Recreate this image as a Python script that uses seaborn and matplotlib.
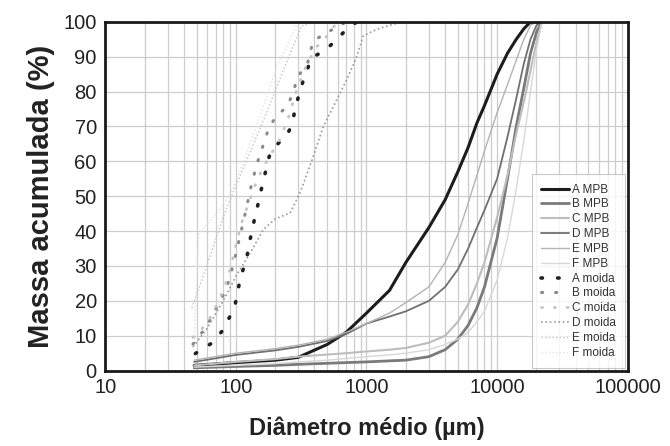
import matplotlib
matplotlib.use("Agg")
import matplotlib.pyplot as plt
import seaborn as sns
import numpy as np
import pandas as pd

# Particle size (µm) for the MPB curves
xMPB = [48, 100, 200, 300, 500, 700, 1000, 1500, 2000, 3000, 4000, 5000,
        6000, 7000, 8000, 10000, 12000, 14000, 16000, 18000, 20000, 22000]

aMPB = [1.5, 2.3, 3.0, 3.8, 7.5, 11, 16.5, 23, 31, 41, 49, 57,
        64, 71, 76, 85, 91, 95, 98, 100, 100, 100]
bMPB = [0.8, 1.2, 1.5, 1.8, 2.1, 2.3, 2.5, 2.8, 3.0, 4.0, 6.0, 9.0,
        13, 18, 24, 38, 55, 70, 81, 91, 97, 100]
cMPB = [1.5, 2.5, 3.3, 4.0, 4.6, 5.0, 5.5, 6.0, 6.5, 8.0, 10, 14,
        19, 25, 31, 44, 56, 68, 77, 86, 94, 100]
dMPB = [2.5, 4.5, 5.8, 6.8, 8.5, 10.5, 13.5, 15.5, 17, 20, 24, 29,
        35, 41, 46, 55, 67, 78, 88, 95, 99, 100]
eMPB = [3.0, 5.0, 6.3, 7.3, 9.0, 11, 13.5, 16.5, 19.5, 24, 31, 39,
        48, 56, 63, 74, 82, 89, 95, 99, 100, 100]
fMPB = [1.0, 1.5, 2.0, 2.5, 3.0, 3.5, 4.0, 4.5, 5.0, 6.0, 7.5, 9.0,
        11, 14, 17, 26, 38, 52, 66, 80, 92, 100]

# Ground ("moída") curves
xAMoida = [49, 65, 78, 90, 99, 104, 110, 121, 126, 132, 140, 149, 158, 180,
           203, 247, 268, 283, 302, 330, 380, 487, 665, 840]
aMoida = [4.9, 7.8, 11.2, 15.5, 19.1, 23.3, 27.4, 32, 36.3, 39.4, 44.1, 48.2,
          52.6, 61.4, 64.5, 67.7, 70.3, 74.6, 78.7, 83.5, 89.7, 91.9, 96.9, 100]
xBMoida = [47, 55, 64, 72, 83, 90, 98, 106, 113, 120, 131, 140, 151, 165,
           180, 205, 247, 275, 295, 355, 390, 496, 700]
bMoida = [7.6, 10.9, 14.7, 18.5, 22.6, 26.8, 32, 37.5, 42, 46.3, 53, 57.1,
          61.4, 65.5, 70, 72.9, 75.8, 79.7, 84, 88.3, 94.5, 96.9, 100]
xCMoida = [47, 55, 62, 72, 82, 92, 100, 110, 125, 140, 160, 185, 215, 250,
           290, 350, 420, 500, 600]
cMoida = [9.5, 12, 14.5, 19, 24, 30, 36, 42, 48, 53, 58, 62, 66, 72,
          80, 88, 93, 96, 100]
xDMoida = [47, 60, 80, 100, 130, 162, 200, 260, 310, 380, 467, 580, 708, 840,
           945, 1190, 1500, 1900]
dMoida = [6.8, 12, 20, 27, 34, 40.4, 43.5, 45.2, 51, 60, 70, 77, 83.5, 90,
          96, 97.8, 99, 100]
xEMoida = [46, 55, 65, 80, 100, 130, 172, 230, 318, 400]
eMoida = [18, 26, 34, 44, 53, 63, 74, 86, 98.8, 100]
xFMoida = [48, 52, 60, 75, 95, 120, 160, 210, 260, 300]
fMoida = [10, 39, 42, 46, 52, 62, 75, 88, 95, 100]

xTicks = [10, 100, 1000, 10000, 100000]
xTickLabels = ["10", "100", "1000", "10000", "100000"]
yTicks = list(range(0, 101, 10))

sns.set_theme(style="white")
plt.rcParams['font.family'] = ['Liberation Sans', 'DejaVu Sans']

fig = plt.figure(figsize=(6.7, 4.46), dpi=100)
ax = fig.add_axes([0.157, 0.169, 0.78, 0.782])

dotDash = (0, (0.4, 4.2))
series = [
    ("A MPB", xMPB, aMPB, dict(color="#1c1c1c", lw=2.2, linestyle="-")),
    ("B MPB", xMPB, bMPB, dict(color="#7a7a7a", lw=2.0, linestyle="-")),
    ("C MPB", xMPB, cMPB, dict(color="#bdbdbd", lw=1.5, linestyle="-")),
    ("D MPB", xMPB, dMPB, dict(color="#707070", lw=1.3, linestyle="-")),
    ("E MPB", xMPB, eMPB, dict(color="#b3b3b3", lw=1.0, linestyle="-")),
    ("F MPB", xMPB, fMPB, dict(color="#d8d8d8", lw=1.0, linestyle="-")),
    ("A moida", xAMoida, aMoida, dict(color="#202020", lw=2.6, linestyle=dotDash,
                                      dash_capstyle="round")),
    ("B moida", xBMoida, bMoida, dict(color="#8a8a8a", lw=2.2, linestyle=dotDash,
                                      dash_capstyle="round")),
    ("C moida", xCMoida, cMoida, dict(color="#c4c4c4", lw=2.0, linestyle=dotDash,
                                      dash_capstyle="round")),
    ("D moida", xDMoida, dMoida, dict(color="#9a9a9a", lw=1.2, linestyle=(0, (1, 1.6)))),
    ("E moida", xEMoida, eMoida, dict(color="#c2c2c2", lw=1.0, linestyle=(0, (1, 1.6)))),
    ("F moida", xFMoida, fMoida, dict(color="#e2e2e2", lw=1.0, linestyle=(0, (1, 1.6)))),
]

for name, xs, ys, style in series:
    df = pd.DataFrame({"x": xs, "y": ys})
    sns.lineplot(data=df, x="x", y="y", ax=ax, label=name, estimator=None, **style)

ax.set_xscale("log")
ax.set_xlim(10, 100000)
ax.set_ylim(0, 100)
ax.set_xticks(xTicks)
ax.set_xticklabels(xTickLabels)
ax.set_yticks(yTicks)

ax.grid(True, which="major", color="#cdcdcd", lw=0.9)
ax.grid(True, which="minor", axis="x", color="#cdcdcd", lw=0.9)
ax.tick_params(axis="both", which="both", length=0, labelsize=14.5, colors="#222222")
ax.tick_params(axis="y", pad=6)
ax.tick_params(axis="x", pad=5)

for spine in ax.spines.values():
    spine.set_visible(True)
    spine.set_color("#1a1a1a")
    spine.set_linewidth(2.0)

ax.set_xlabel("Diâmetro médio (µm)", fontsize=17, fontweight="bold", color="#222222", labelpad=14)
ax.set_ylabel("Massa acumulada (%)", fontsize=21, fontweight="bold", color="#222222", labelpad=6)

leg = ax.legend(loc="lower right", fontsize=8.5, labelspacing=0.24, handlelength=2.3,
                handletextpad=0.3, borderaxespad=0.2, frameon=True, fancybox=False,
                borderpad=0.8)
leg.get_frame().set_edgecolor("#bbbbbb")
leg.get_frame().set_linewidth(0.8)
for t in leg.get_texts():
    t.set_color("#333333")

fig.savefig("out.png", dpi=100)
